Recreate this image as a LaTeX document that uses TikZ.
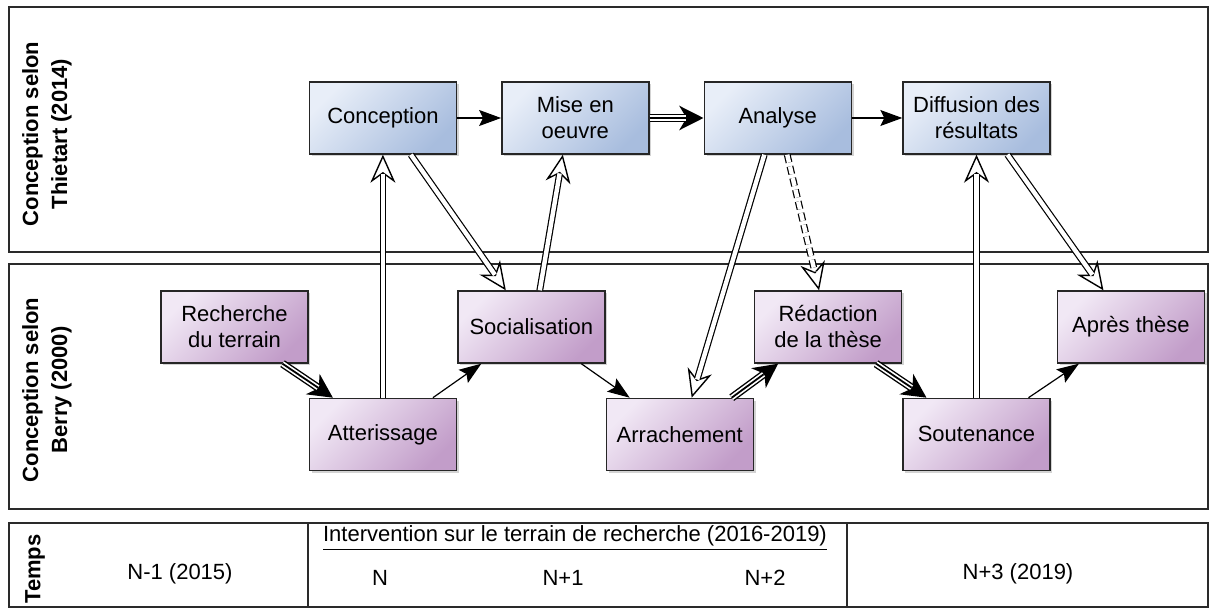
\documentclass[tikz,border=0pt]{standalone}
\usepackage{fontspec}
\setmainfont{Liberation Sans}
\usepackage{xcolor}
\usepackage{tikz}
\usetikzlibrary{arrows.meta,positioning,shadows}
\definecolor{thietartlight}{HTML}{E8EEF8}
\definecolor{thietartdark}{HTML}{A8BDDE}
\definecolor{berrylight}{HTML}{F1E8F5}
\definecolor{berrydark}{HTML}{C29DC9}
\definecolor{lanegray}{HTML}{2A2A2A}
\tikzset{
    phase/.style={rectangle, draw=black!85, line width=0.7pt,
        minimum width=73.5pt, minimum height=36pt, inner sep=2pt,
        align=center, font=\fontsize{11}{13}\selectfont,
        drop shadow={shadow xshift=1.2pt, shadow yshift=-1.2pt, opacity=0.35}},
    thietart/.style={phase, top color=thietartlight, bottom color=thietartdark, shading angle=45},
    berry/.style={phase, top color=berrylight, bottom color=berrydark, shading angle=45},
    lane/.style={draw=lanegray, line width=1pt},
    lanelabel/.style={rotate=90, align=center, font=\bfseries\fontsize{11}{14.5}\selectfont},
    timelabel/.style={font=\fontsize{11}{13}\selectfont},
    flow/.style={-{Stealth[length=11pt, width=8pt, inset=2pt]}, line width=0.6pt},
    tripleflow/.style={-{Stealth[length=12pt, width=12pt, inset=3.5pt]}, line width=4pt,
        postaction={draw=white, -, line width=2.6pt, shorten >=9pt},
        postaction={draw=black, -, line width=0.9pt, shorten >=9pt}},
    hollowflow/.style={-{Stealth[open, fill=white, line width=0.7pt, length=14pt, width=12.5pt, inset=4.5pt]},
        line width=3.4pt, postaction={draw=white, -, line width=2.2pt, shorten >=9.5pt}},
    hollowdash/.style={hollowflow, dash pattern=on 4pt off 2pt}
}
\begin{document}
\begin{tikzpicture}[x=0.5pt, y=-0.5pt, node distance=17pt and 0pt]
        \useasboundingbox (0,0) rectangle (1211,610);
        \draw[lane] (9,7) rectangle (1208,252);
        \draw[lane] (9,264) rectangle (1208,509);
        \draw[lane] (9,523) rectangle (1208,607);
        \draw[lane] (308,523) -- (308,607);
        \draw[lane] (847,523) -- (847,607);
        \node[lanelabel] (thietartlab) at (47,134) {Conception selon\\Thietart (2014)};
        \node[lanelabel] (berrylab) at (47,390) {Conception selon\\Berry (2000)};
        \node[lanelabel] (tempslab) at (35,569) {Temps};
        \node[berry] (recherche) at (234.5,327) {Recherche\\du terrain};
        \node[berry,below right=of recherche] (atterissage) {Atterissage};
        \node[berry,above right=of atterissage] (socialisation) {Socialisation};
        \node[berry,below right=of socialisation] (arrachement) {Arrachement};
        \node[berry,above right=of arrachement] (redaction) {Rédaction\\de la thèse};
        \node[berry,below right=of redaction] (soutenance) {Soutenance};
        \node[berry,above right=17pt and 3pt of soutenance] (apres) {Après thèse};
        \node[thietart,above=121.5pt of atterissage] (conception) {Conception};
        \node[thietart,right=22pt of conception] (mise) {Mise en\\oeuvre};
        \node[thietart,right=27pt of mise] (analyse) {Analyse};
        \node[thietart,above=121.5pt of soutenance] (diffusion) {Diffusion des\\résultats};
        \node[timelabel] (annee0) at (180,574) {N-1 (2015)};
        \node[timelabel] (intervention) at (575,538) {\underline{Intervention sur le terrain de recherche (2016-2019)}};
        \node[timelabel] (annee1) at (380,578) {N};
        \node[timelabel] (annee2) at (563,578) {N+1};
        \node[timelabel] (annee3) at (765,578) {N+2};
        \node[timelabel] (annee4) at (1018,574) {N+3 (2019)};
        \draw[flow] (conception) -- (mise);
        \draw[tripleflow] (mise) -- (analyse);
        \draw[flow] (analyse) -- (diffusion);
        \draw[tripleflow] ([xshift=24pt]recherche.south) -- ([xshift=-25pt]atterissage.north);
        \draw[flow] ([xshift=25pt]atterissage.north) -- ([xshift=-25pt]socialisation.south);
        \draw[flow] ([xshift=25pt]socialisation.south) -- ([xshift=-25pt]arrachement.north);
        \draw[tripleflow] ([xshift=26pt]arrachement.north) -- ([xshift=-25pt]redaction.south);
        \draw[tripleflow] ([xshift=24pt]redaction.south) -- ([xshift=-25pt]soutenance.north);
        \draw[flow] ([xshift=26pt]soutenance.north) -- ([xshift=-26pt]apres.south);
        \draw[hollowflow] (atterissage) -- (conception);
        \draw[hollowflow] ([xshift=14pt]conception.south) -- ([xshift=-12.75pt]socialisation.north);
        \draw[hollowflow] ([xshift=4.25pt]socialisation.north) -- ([xshift=-6.25pt]mise.south);
        \draw[hollowflow] ([xshift=-6.7pt]analyse.south) -- ([xshift=6pt]arrachement.north);
        \draw[hollowdash] ([xshift=4.75pt]analyse.south) -- ([xshift=-4.5pt]redaction.north);
        \draw[hollowflow] (soutenance) -- (diffusion);
        \draw[hollowflow] ([xshift=15.5pt]diffusion.south) -- ([xshift=-13.75pt]apres.north);
    \end{tikzpicture}
\end{document}
